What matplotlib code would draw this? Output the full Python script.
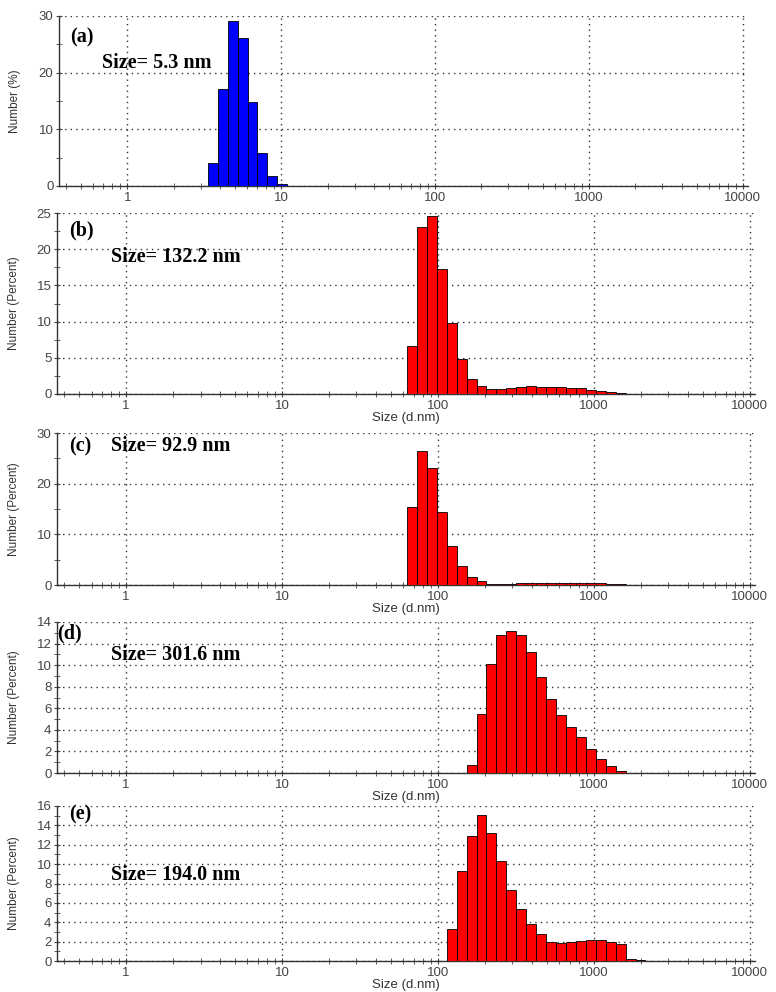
import numpy as np
import matplotlib
matplotlib.use('Agg')
import matplotlib.pyplot as plt
from matplotlib.ticker import FixedLocator, NullFormatter, MultipleLocator

# size classes (d.nm) and number (%)
a_sizes = [3.615, 4.187, 4.849, 5.615, 6.503, 7.531, 8.721, 10.10]
a_num = [4.1, 17.2, 29.2, 26.2, 14.8, 5.8, 1.8, 0.4]

b_sizes = [68.06, 78.82, 91.28, 105.7, 122.4, 141.8, 164.2, 190.1, 220.2,
           255.0, 295.3, 342.0, 396.1, 458.7, 531.2, 615.1, 712.4, 825.0,
           955.4, 1106, 1281, 1484]
b_num = [6.6, 23.1, 24.6, 17.3, 9.8, 4.9, 2.1, 1.1, 0.65, 0.65, 0.8, 0.9,
         1.05, 1.0, 0.9, 0.9, 0.8, 0.8, 0.55, 0.4, 0.25, 0.1]

c_sizes = b_sizes
c_num = [15.4, 26.4, 23.0, 14.5, 7.6, 3.7, 1.5, 0.7, 0.26, 0.2, 0.2, 0.33,
         0.33, 0.33, 0.33, 0.46, 0.46, 0.46, 0.46, 0.46, 0.26, 0.26]

d_sizes = [164.2, 190.1, 220.2, 255.0, 295.3, 342.0, 396.1, 458.7, 531.2,
           615.1, 712.4, 825.0, 955.4, 1106, 1281, 1484]
d_num = [0.77, 5.5, 10.15, 12.8, 13.2, 12.8, 11.2, 8.86, 6.83, 5.38, 4.3,
         3.38, 2.25, 1.32, 0.68, 0.15]

e_sizes = [122.4, 141.8, 164.2, 190.1, 220.2, 255.0, 295.3, 342.0, 396.1,
           458.7, 531.2, 615.1, 712.4, 825.0, 955.4, 1106, 1281, 1484, 1718,
           1990]
e_num = [3.35, 9.3, 12.9, 15.1, 13.25, 10.3, 7.3, 5.4, 3.78, 2.74, 1.95,
         1.88, 1.91, 2.05, 2.15, 2.15, 1.95, 1.76, 0.17, 0.07]

x_ticks = [1, 10, 100, 1000, 10000]
x_ticklabels = ['1', '10', '100', '1000', '10000']

W, H = 776, 992
fig = plt.figure(figsize=(W / 100, H / 100), dpi=100)


def px_rect(left, top, bottom, width):
    return [left / W, 1 - bottom / H, width / W, (bottom - top) / H]


def class_edges(sizes):
    s = np.log10(np.asarray(sizes, dtype=float))
    mids = (s[1:] + s[:-1]) / 2
    step = np.mean(np.diff(s)) / 2
    edges = np.concatenate([[s[0] - step], mids, [s[-1] + step]])
    return 10 ** edges


def draw_panel(rect, sizes, num, color, ymax, ystep, yminor, ylabel, xlabel):
    ax = fig.add_axes(rect)
    edges = class_edges(sizes)
    ax.bar(edges[:-1], num, width=np.diff(edges), align='edge',
           color=color, edgecolor='black', linewidth=0.6, zorder=3)
    ax.set_xscale('log')
    ax.set_xlim(0.36, 10800)
    ax.set_ylim(0, ymax)
    ax.xaxis.set_major_locator(FixedLocator(x_ticks))
    ax.set_xticklabels(x_ticklabels)
    ax.xaxis.set_minor_formatter(NullFormatter())
    ax.yaxis.set_major_locator(MultipleLocator(ystep))
    ax.yaxis.set_minor_locator(MultipleLocator(yminor))
    ax.grid(True, which='major', color='#333333', linestyle=(0, (1, 3)),
            linewidth=1.0, zorder=0)
    for sp in ['top', 'right']:
        ax.spines[sp].set_visible(False)
    for sp in ['left', 'bottom']:
        ax.spines[sp].set_color('#333333')
        ax.spines[sp].set_linewidth(1.0)
    ax.tick_params(which='both', direction='inout', colors='#444444',
                   labelsize=9.5, pad=1.5)
    ax.tick_params(which='major', length=5)
    ax.tick_params(which='minor', length=4)
    for lab in ax.get_xticklabels() + ax.get_yticklabels():
        lab.set_fontfamily('Liberation Sans')
    ax.set_ylabel(ylabel, fontsize=8.5, color='#333333',
                  fontfamily='Liberation Sans')
    if xlabel:
        ax.set_xlabel(xlabel, fontsize=9.5, color='#333333',
                      fontfamily='Liberation Sans', labelpad=0.5)
    return ax


ax_a = draw_panel(px_rect(59, 16, 186, 689), a_sizes, a_num, '#0000ff',
                  30, 10, 5, 'Number (%)', None)
ax_a.yaxis.set_label_coords(-38 / 689, 0.5)
ax_b = draw_panel(px_rect(57, 213, 394, 698), b_sizes, b_num, '#ff0000',
                  25, 5, 2.5, 'Number (Percent)', 'Size (d.nm)')
ax_c = draw_panel(px_rect(57, 433, 585, 698), c_sizes, c_num, '#ff0000',
                  30, 10, 5, 'Number (Percent)', 'Size (d.nm)')
ax_d = draw_panel(px_rect(57, 622, 773, 698), d_sizes, d_num, '#ff0000',
                  14, 2, 1, 'Number (Percent)', 'Size (d.nm)')
ax_e = draw_panel(px_rect(57, 806, 961, 698), e_sizes, e_num, '#ff0000',
                  16, 2, 1, 'Number (Percent)', 'Size (d.nm)')
for ax in [ax_b, ax_c, ax_d, ax_e]:
    ax.yaxis.set_label_coords(-37 / 698, 0.5)

notes = [
    ('(a)', 70, 37), ('Size= 5.3 nm', 102, 63),
    ('(b)', 69, 230), ('Size= 132.2 nm', 111, 257),
    ('(c)', 69, 446), ('Size= 92.9 nm', 111, 446),
    ('(d)', 57, 633), ('Size= 301.6 nm', 111, 655),
    ('(e)', 69, 814), ('Size= 194.0 nm', 111, 875),
]
for txt, x, y in notes:
    fig.text(x / W, 1 - y / H, txt, fontsize=14.5, fontweight='bold',
             fontfamily='Liberation Serif', ha='left', va='center',
             color='black')

fig.savefig('out.png', dpi=100)
